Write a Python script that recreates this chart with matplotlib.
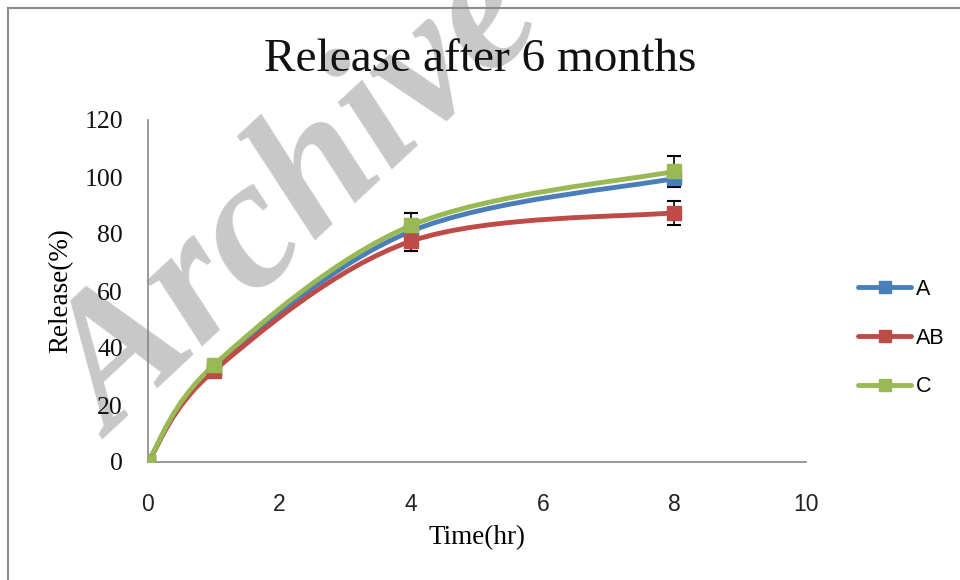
import matplotlib
matplotlib.use('Agg')
from matplotlib import pyplot as plt
from matplotlib.path import Path
from matplotlib.patches import PathPatch
from matplotlib.lines import Line2D

# data
time_hr = [0, 1, 4, 8]
rel_A = [0, 33, 81, 99.5]
rel_AB = [0, 32, 77.5, 87.5]
rel_C = [0, 34, 83, 102]
err_A = [0, 0, 0, 2.5]
err_AB = [0, 0, 3.5, 4.2]
err_C = [0, 0, 4.2, 5.4]
series_names = ['A', 'AB', 'C']
series_colors = ['#4a7ebb', '#be4b48', '#98b954']


def smooth_path(xs, ys):
	# excel-like smoothed line: cubic bezier through the points
	verts = [(xs[0], ys[0])]
	codes = [Path.MOVETO]
	n = len(xs)
	for i in range(n - 1):
		x0, y0 = (xs[i - 1], ys[i - 1]) if i > 0 else (xs[i], ys[i])
		x3, y3 = (xs[i + 2], ys[i + 2]) if i + 2 < n else (xs[i + 1], ys[i + 1])
		c1 = (xs[i] + (xs[i + 1] - x0) / 6, ys[i] + (ys[i + 1] - y0) / 6)
		c2 = (xs[i + 1] - (x3 - xs[i]) / 6, ys[i + 1] - (y3 - ys[i]) / 6)
		verts += [c1, c2, (xs[i + 1], ys[i + 1])]
		codes += [Path.CURVE4] * 3
	return Path(verts, codes)


fig = plt.figure(figsize=(9.6, 5.8), dpi=100)
ax = fig.add_axes([148 / 960, 1 - 462 / 580, (806 - 148) / 960, (462 - 120) / 580])
ax.set_facecolor('none')

# watermark
fig.text(112 / 960, 1 - 440 / 580, 'Archive', rotation=43, rotation_mode='anchor',
	ha='left', va='baseline', fontsize=134, color='#c8c8c8', family='Liberation Serif',
	fontweight='bold', fontstyle='italic', zorder=-1)

# frame around the chart
fig.add_artist(Line2D([8 / 960, 8 / 960], [0, 1 - 8 / 580], color='#8c8c8c', lw=1.5))
fig.add_artist(Line2D([8 / 960, 1], [1 - 8 / 580, 1 - 8 / 580], color='#8c8c8c', lw=1.5))

data = [rel_A, rel_AB, rel_C]
errs = [err_A, err_AB, err_C]
handles = []
for name, col, vals, er in zip(series_names, series_colors, data, errs):
	ax.add_patch(PathPatch(smooth_path(time_hr, vals), facecolor='none', edgecolor=col,
		lw=3.5, capstyle='round', joinstyle='round', zorder=3))
	ax.plot(time_hr, vals, ls='none', marker='s', ms=9.5, color=col, zorder=4)
	xe = [t for t, e in zip(time_hr, er) if e > 0]
	ye = [v for v, e in zip(vals, er) if e > 0]
	ee = [e for e in er if e > 0]
	ax.errorbar(xe, ye, yerr=ee, fmt='none', ecolor='black', elinewidth=1.2,
		capsize=5, capthick=1.5, zorder=2)
	handles.append(Line2D([], [], color=col, lw=3.5, marker='s', ms=8, solid_capstyle='round'))

ax.set_xlim(0, 10)
ax.set_ylim(0, 120)
ax.set_xticks(range(0, 11, 2))
ax.set_yticks(range(0, 121, 20))
for s in ['top', 'right']:
	ax.spines[s].set_visible(False)
for s in ['left', 'bottom']:
	ax.spines[s].set_color('#888888')
	ax.spines[s].set_linewidth(1.2)
ax.tick_params(length=0)
ax.tick_params(axis='x', pad=22, labelsize=16.5, labelcolor='#222222')
ax.tick_params(axis='y', pad=18, labelsize=18.5, labelcolor='#111111')
for lab in ax.get_xticklabels():
	lab.set_family('Liberation Sans')
for lab in ax.get_yticklabels():
	lab.set_family('Liberation Serif')

ax.set_xlabel('Time(hr)', family='Liberation Serif', fontsize=19.5, labelpad=7)
ax.set_ylabel('Release(%)', family='Liberation Serif', fontsize=19.5, labelpad=8)
fig.text(480 / 960, 1 - 60 / 580, 'Release after 6 months', ha='center', va='center',
	family='Liberation Serif', fontsize=34, color='#111111')

leg = fig.legend(handles, series_names, loc='center left', bbox_to_anchor=(849 / 960, 1 - 338 / 580),
	frameon=False, prop={'family': 'Liberation Sans', 'size': 15.5}, handlelength=2.5,
	handletextpad=0.2, labelspacing=1.3, borderaxespad=0)

fig.savefig('out.png', dpi=100)
